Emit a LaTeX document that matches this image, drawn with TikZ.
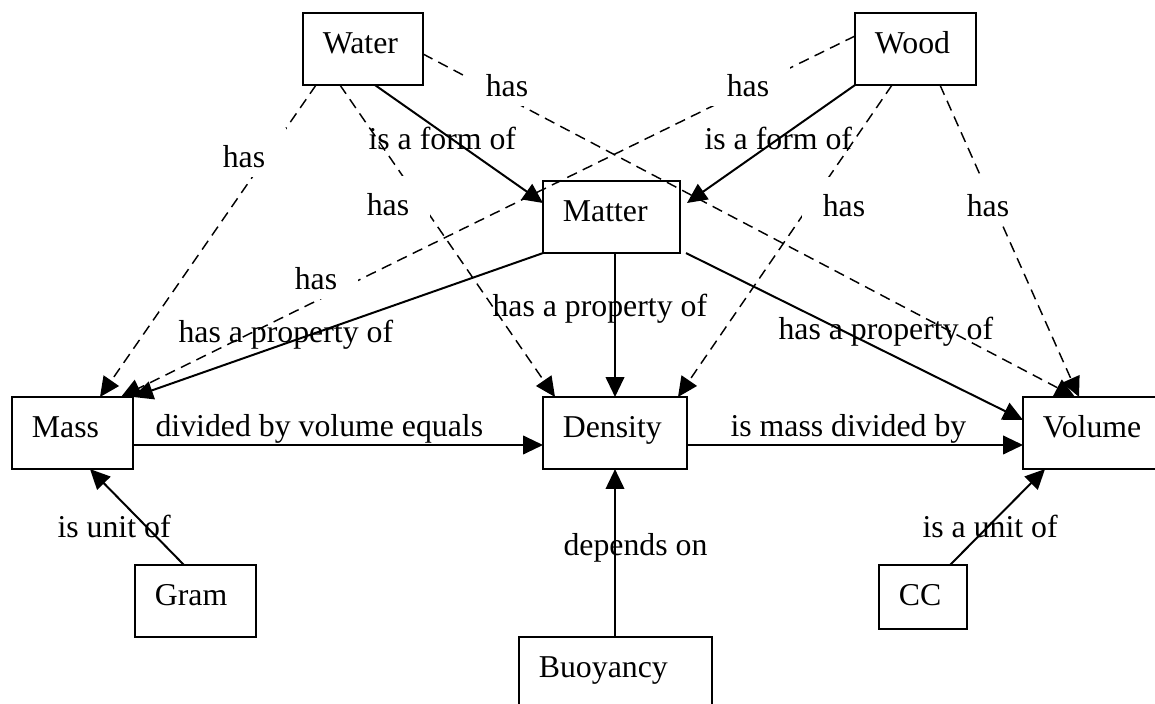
\documentclass[tikz,border=0pt]{standalone}
\usepackage{fontspec}
\setmainfont{Liberation Serif}
\usetikzlibrary{arrows.meta}

\tikzset{
  concept/.style={draw, line width=0.75pt, anchor=north west, outer sep=0pt,
    align=left, inner xsep=7.5pt, inner ysep=7pt,
    text height=8.2pt, text depth=5pt, text width=#1},
  link/.style={-{Triangle[length=7.5pt,width=7pt]}, line width=0.75pt},
  haslink/.style={-{Triangle[length=7.5pt,width=7pt]}, line width=0.55pt,
    dash pattern=on 4pt off 2.5pt},
  haslbl/.style={fill=white, anchor=base, inner xsep=8pt, inner ysep=3.4pt,
    text height=11.8pt, text depth=0pt},
  linklbl/.style={anchor=base west, inner sep=0pt}
}

\begin{document}
\begin{tikzpicture}[x=0.3774pt, y=-0.3774pt, font=\fontsize{12}{14.4}\selectfont]
  \useasboundingbox (0,0) rectangle (1155,704);

  %boxes
  \node[concept=30.3pt] (water) at (303,13) {Water};
  \node[concept=30.7pt] (wood) at (855,13) {Wood};
  \node[concept=36.7pt] (matter) at (543,181) {Matter};
  \node[concept=30.7pt] (mass) at (12,397) {Mass};
  \node[concept=39.3pt] (density) at (543,397) {Density};
  \node[concept=41.6pt] (volume) at (1023,397) {Volume};
  \node[concept=30.7pt] (gram) at (135,565) {Gram};
  \node[concept=57.8pt] (buoyancy) at (519,637) {Buoyancy};
  \node[concept=18.2pt, text depth=1.95pt] (cc) at (879,565) {CC};

  %dashed links
  \draw[haslink] ([shift={(13,0)}]water.south west) -- ([shift={(88,0)}]mass.north west);
  \draw[haslink] ([shift={(37,0)}]water.south west) -- ([shift={(12,0)}]density.north west);
  \draw[haslink] ([shift={(0,41)}]water.north east) -- ([shift={(52,0)}]volume.north west);
  \draw[haslink] ([shift={(0,23)}]wood.north west) -- ([shift={(109,0)}]mass.north west);
  \draw[haslink] ([shift={(37,0)}]wood.south west) -- ([shift={(135,0)}]density.north west);
  \draw[haslink] ([shift={(85,0)}]wood.south west) -- ([shift={(56,0)}]volume.north west);

  \node[haslbl] (has1) at (244,168) {has};
  \node[haslbl] (has2) at (388,216) {has};
  \node[haslbl] (has3) at (507,97) {has};
  \node[haslbl] (has4) at (748,97) {has};
  \node[haslbl] (has5) at (316,290) {has};
  \node[haslbl] (has6) at (844,217) {has};
  \node[haslbl] (has7) at (988,217) {has};

  %solid links
  \draw[link] ([shift={(72,0)}]water.south west) -- ([shift={(0,22)}]matter.north west);
  \draw[link] (wood.south west) -- ([shift={(7,22)}]matter.north east);
  \draw[link] (matter.south west) -- (mass.north east);
  \draw[link] ([shift={(72,0)}]matter.south west) -- ([shift={(72,0)}]density.north west);
  \draw[link] ([shift={(6,0)}]matter.south east) -- ([shift={(0,23)}]volume.north west);
  \draw[link] ([shift={(0,48)}]mass.north east) -- ([shift={(0,48)}]density.north west);
  \draw[link] ([shift={(0,48)}]density.north east) -- ([shift={(0,48)}]volume.north west);
  \draw[link] ([shift={(49,0)}]gram.north west) -- ([shift={(78,0)}]mass.south west);
  \draw[link] ([shift={(96,0)}]buoyancy.north west) -- ([shift={(72,0)}]density.south west);
  \draw[link] ([shift={(71,0)}]cc.north west) -- ([shift={(22,0)}]volume.south west);

  %labels
  \node[linklbl] (form1) at (368,150) {is a form of};
  \node[linklbl] (form2) at (704,150) {is a form of};
  \node[linklbl] (prop1) at (178,343) {has a property of};
  \node[linklbl] (prop2) at (492,317) {has a property of};
  \node[linklbl] (prop3) at (778,340) {has a property of};
  \node[linklbl] (divvol) at (155,437) {divided by volume equals};
  \node[linklbl] (massdiv) at (730,437) {is mass divided by};
  \node[linklbl] (unit1) at (57,537) {is unit of};
  \node[linklbl] (depends) at (563,555) {depends on};
  \node[linklbl] (unit2) at (922,537) {is a unit of};
\end{tikzpicture}
\end{document}
